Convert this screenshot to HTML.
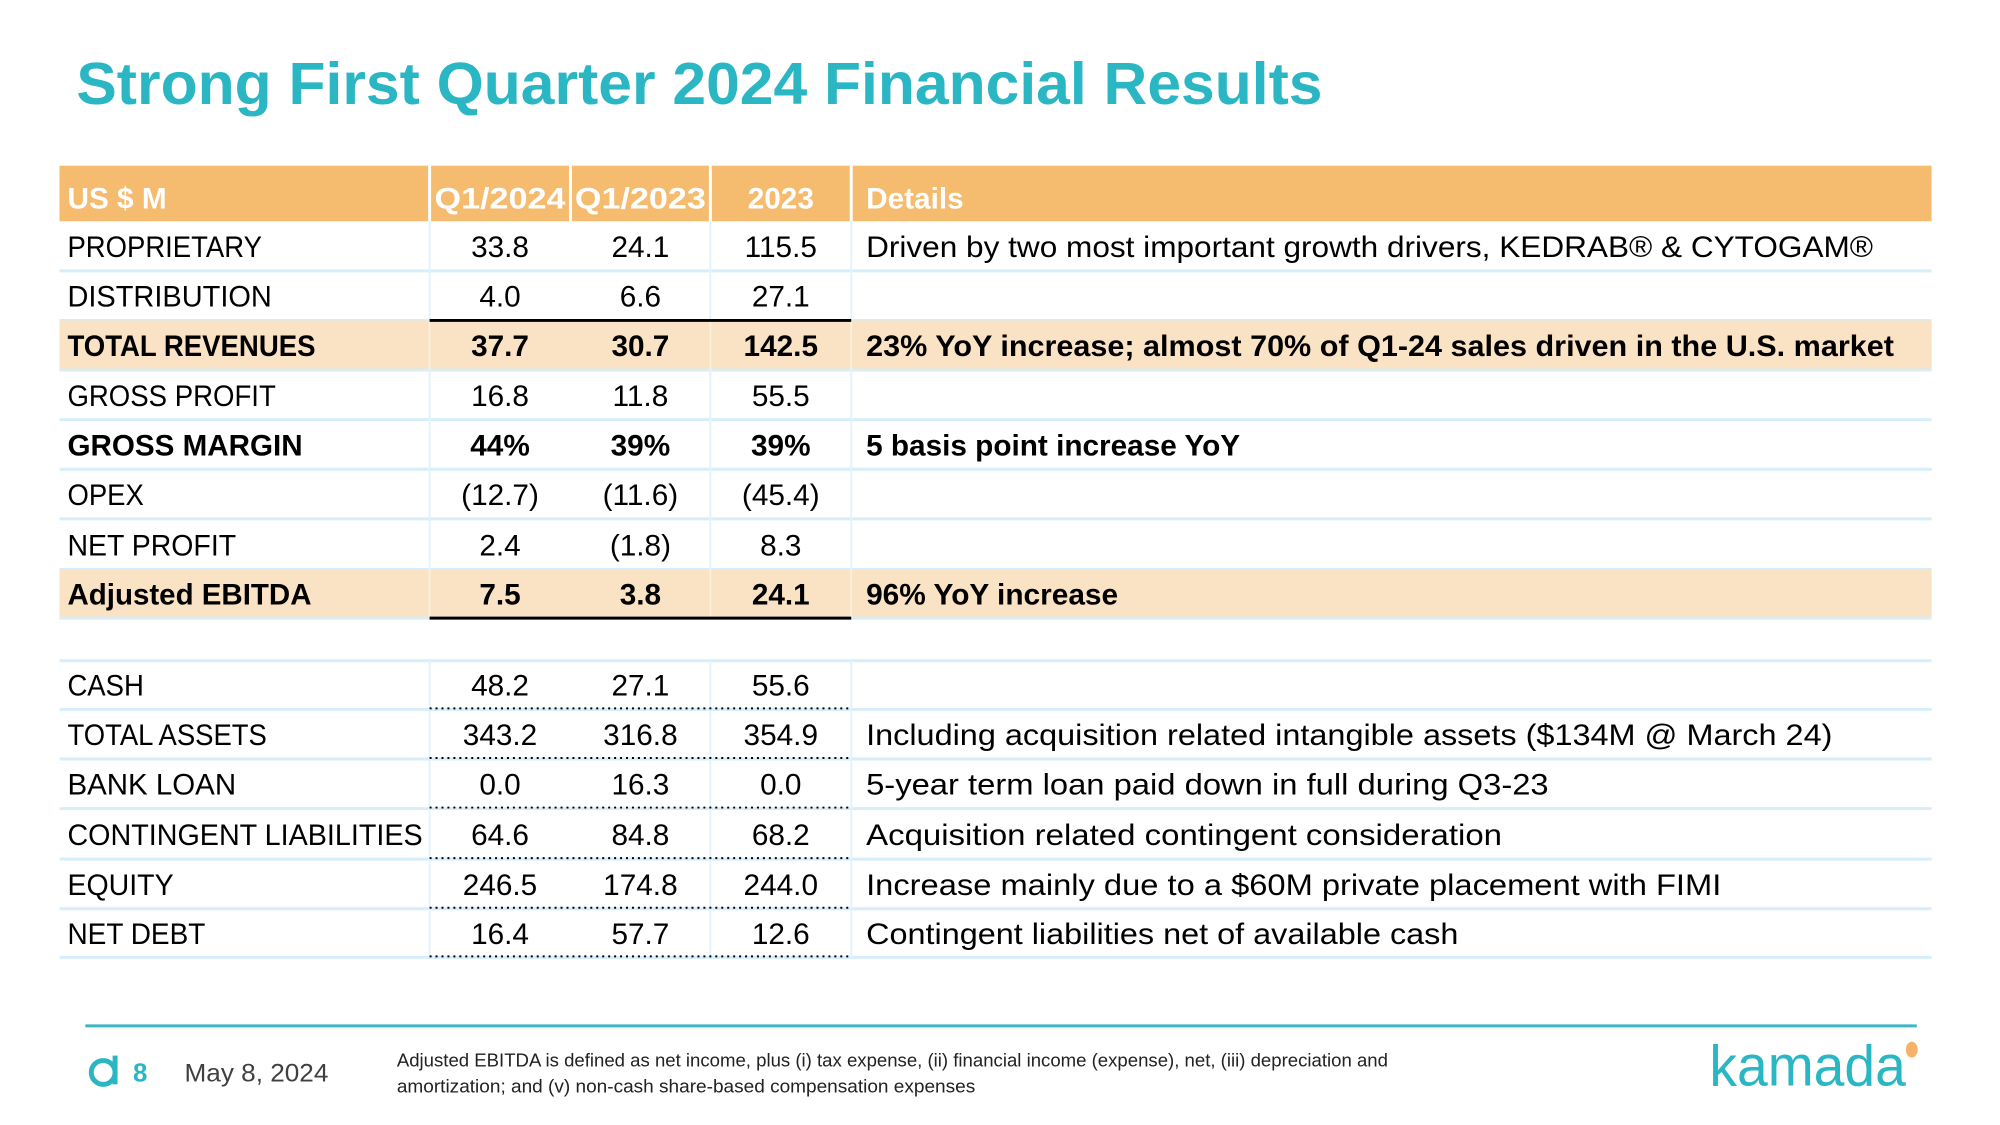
<!DOCTYPE html>
<html><head><meta charset="utf-8"><style>
html,body{margin:0;padding:0;background:#fff;}
svg{display:block;font-family:"Liberation Sans",sans-serif;}
</style></head><body>
<svg id="s" width="2000" height="1125" viewBox="0 0 2000 1125" xmlns="http://www.w3.org/2000/svg">
<g transform="scale(0.9921)">
<text x="77" y="105" font-size="60" font-weight="bold" fill="#2bb6c4" textLength="1256" lengthAdjust="spacingAndGlyphs">Strong First Quarter 2024 Financial Results</text>
<g id="tbl"></g>
<line x1="86" y1="1034" x2="1932" y2="1034" stroke="#3db8c3" stroke-width="3"/>
<g><circle cx="104" cy="1081" r="12" fill="none" stroke="#2bb6c4" stroke-width="5"/><line x1="116" y1="1064" x2="116" y2="1093" stroke="#2bb6c4" stroke-width="5"/></g>
<text x="134" y="1090" font-size="26" font-weight="bold" fill="#2bb6c4">8</text>
<text x="186" y="1090" font-size="25" fill="#404040" textLength="145" lengthAdjust="spacingAndGlyphs">May 8, 2024</text>
<text x="400" y="1075" font-size="19" fill="#222" textLength="999" lengthAdjust="spacingAndGlyphs">Adjusted EBITDA is defined as net income, plus (i) tax expense, (ii) financial income (expense), net, (iii) depreciation and</text>
<text x="400" y="1101" font-size="19" fill="#222" textLength="583" lengthAdjust="spacingAndGlyphs">amortization; and (v) non-cash share-based compensation expenses</text>
<text x="1723" y="1094" font-size="58" fill="#2bb6c4" textLength="198" lengthAdjust="spacingAndGlyphs">kamada</text>
<ellipse cx="1927" cy="1058" rx="6" ry="8" fill="#f5b36a"/>
</g>
</svg>
<script>
const labels=["PROPRIETARY","DISTRIBUTION","TOTAL REVENUES","GROSS PROFIT","GROSS MARGIN","OPEX","NET PROFIT","Adjusted EBITDA","","CASH","TOTAL ASSETS","BANK LOAN","CONTINGENT LIABILITIES","EQUITY","NET DEBT"];
const q12024=["33.8","4.0","37.7","16.8","44%","(12.7)","2.4","7.5","","48.2","343.2","0.0","64.6","246.5","16.4"];
const q12023=["24.1","6.6","30.7","11.8","39%","(11.6)","(1.8)","3.8","","27.1","316.8","16.3","84.8","174.8","57.7"];
const fy2023=["115.5","27.1","142.5","55.5","39%","(45.4)","8.3","24.1","","55.6","354.9","0.0","68.2","244.0","12.6"];
const details=["Driven by two most important growth drivers, KEDRAB® & CYTOGAM®","","23% YoY increase; almost 70% of Q1-24 sales driven in the U.S. market","","5 basis point increase YoY","","","96% YoY increase","","","Including acquisition related intangible assets ($134M @ March 24)","5-year term loan paid down in full during Q3-23","Acquisition related contingent consideration","Increase mainly due to a $60M private placement with FIMI","Contingent liabilities net of available cash"];
const labelW=[196,206,250,210,237,77,170,246,0,77,201,170,358,107,139];
const detailW=[1015,0,1036,0,377,0,0,254,0,0,974,688,641,862,597];
const NS="http://www.w3.org/2000/svg";
const g=document.getElementById('tbl');
function el(t,a,txt){const e=document.createElementNS(NS,t);for(const k in a)e.setAttribute(k,a[k]);if(txt!==undefined)e.textContent=txt;g.appendChild(e);return e;}
const X=[60,433,575,716,858,1947];
const hdr=el('rect',{x:60,y:167,width:1887,height:56,fill:'#f5bb6e'});


[433,575,716,858].forEach(x=>{const l=el('line',{x1:x,y1:167,x2:x,y2:223,stroke:'#fff','stroke-width':3});

});
const heads=["US $ M","Q1/2024","Q1/2023","2023","Details"];
heads.forEach((h,i)=>{const c=i==0?68:i==4?873:(X[i]+X[i+1])/2;
const t=el('text',{x:c,y:210,'font-size':30,'font-weight':'bold',fill:'#fff','text-anchor':(i==0||i==4)?'start':'middle'},h);
if(i==1||i==2){t.setAttribute('textLength','132');t.setAttribute('lengthAdjust','spacingAndGlyphs');}

});
const tops=[223,273,323,373,423,473,523,574,623,666,715,765,815,866,916,965];
for(let i=0;i<labels.length;i++){
 const y0=tops[i],y1=tops[i+1];
 const hl=(i==2||i==7),bold=(i==2||i==4||i==7);
 if(hl){const r=el('rect',{x:60,y:y0,width:1887,height:y1-y0,fill:'#fae2c4'});
 
 }
 const sep=el('line',{x1:60,y1:y1,x2:1947,y2:y1,stroke:'#d6eef9','stroke-width':3});
 
 
 if(i!=8){[433,716,858].forEach(x=>{const v=el('line',{x1:x,y1:y0,x2:x,y2:y1,stroke:hl?'#fbeedd':'#e3f3fb','stroke-width':2});
 
 });}
 if(!labels[i])continue;
 const by=y0+(y1-y0)*0.72;
 const fw=bold?'bold':'normal';
 const lt=el('text',{x:68,y:by,'font-size':30,'font-weight':fw,fill:'#000',textLength:labelW[i],lengthAdjust:'spacingAndGlyphs'},labels[i]);
 
 
 [q12024,q12023,fy2023].forEach((arr,j)=>{const t=el('text',{x:(X[j+1]+X[j+2])/2,y:by,'font-size':30,'font-weight':fw,fill:'#000','text-anchor':'middle'},arr[i]);
 
 });
 if(details[i]){const d=el('text',{x:873,y:by,'font-size':30,'font-weight':fw,fill:'#000',textLength:detailW[i],lengthAdjust:'spacingAndGlyphs'},details[i]);
 
 }
 if(i>=9){const dl=el('line',{x1:433,y1:y1-1,x2:858,y2:y1-1,stroke:'#000','stroke-width':2,'stroke-dasharray':'2 4'});
 
 }
}
[323,623].forEach(y=>{const b=el('line',{x1:433,y1:y,x2:858,y2:y,stroke:'#000','stroke-width':3});

});
</script>
</body></html>
